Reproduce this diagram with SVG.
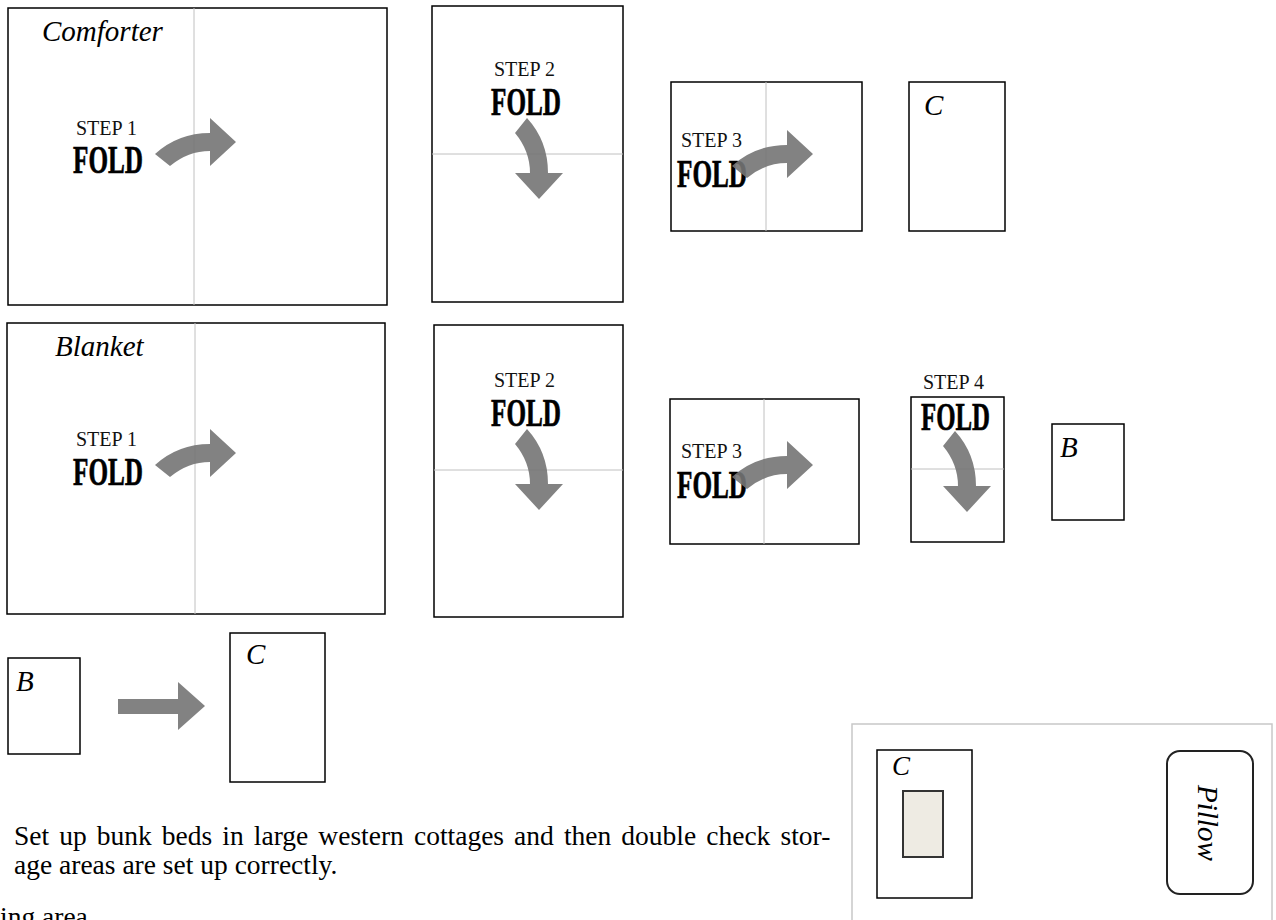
<svg xmlns="http://www.w3.org/2000/svg" xmlns:xlink="http://www.w3.org/1999/xlink" width="1276" height="920" viewBox="0 0 1276 920">
<style>
.box{fill:#fff;stroke:#000;stroke-width:1.5}
.fold{stroke:#c0c0c0;stroke-width:1;fill:none}
.lbl{font-family:"Liberation Serif","Times New Roman",serif;font-style:italic;font-size:29px;fill:#000}
.step{font-family:"Liberation Serif","Times New Roman",serif;font-size:20px;fill:#111}
.fd{font-family:"Liberation Serif","Times New Roman",serif;font-weight:bold;font-size:41px;fill:#000;stroke:#000;stroke-width:0.7}
.arr{fill:#747474;fill-opacity:0.9}
.body{font-family:"Liberation Serif","Times New Roman",serif;font-size:27.5px;fill:#000}
</style>
<defs>
<path id="curv" d="M-55,12 Q-32,-9 0,-9 L0,-24 L26,0 L0,24 L0,9 Q-22,9 -40,24 Z"/>
</defs>
<rect width="1276" height="920" fill="#fff"/>

<g id="comforter-step1">
<rect class="box" x="8" y="8" width="379" height="297"/>
<line class="fold" x1="194" y1="8" x2="194" y2="305"/>
<text class="lbl" x="42" y="41">Comforter</text>
<text class="step" x="76" y="135">STEP 1</text>
<text class="fd" x="73" y="173" textLength="70" lengthAdjust="spacingAndGlyphs">FOLD</text>
</g>
<g id="comforter-step2">
<rect class="box" x="432" y="6" width="191" height="296"/>
<line class="fold" x1="432" y1="154" x2="623" y2="154"/>
<text class="step" x="494" y="76">STEP 2</text>
<text class="fd" x="491" y="115" textLength="70" lengthAdjust="spacingAndGlyphs">FOLD</text>
</g>
<g id="comforter-step3">
<rect class="box" x="671" y="82" width="191" height="149"/>
<line class="fold" x1="766" y1="82" x2="766" y2="231"/>
<text class="step" x="681" y="147">STEP 3</text>
<text class="fd" x="677" y="187" textLength="70" lengthAdjust="spacingAndGlyphs">FOLD</text>
</g>
<g id="comforter-done">
<rect class="box" x="909" y="82" width="96" height="149"/>
<text class="lbl" x="924" y="115">C</text>
</g>

<g id="blanket-step1">
<rect class="box" x="7" y="323" width="378" height="291"/>
<line class="fold" x1="195" y1="323" x2="195" y2="614"/>
<text class="lbl" x="55" y="356">Blanket</text>
<text class="step" x="76" y="446">STEP 1</text>
<text class="fd" x="73" y="485" textLength="70" lengthAdjust="spacingAndGlyphs">FOLD</text>
</g>
<g id="blanket-step2">
<rect class="box" x="434" y="325" width="189" height="292"/>
<line class="fold" x1="434" y1="470" x2="623" y2="470"/>
<text class="step" x="494" y="387">STEP 2</text>
<text class="fd" x="491" y="426" textLength="70" lengthAdjust="spacingAndGlyphs">FOLD</text>
</g>
<g id="blanket-step3">
<rect class="box" x="670" y="399" width="189" height="145"/>
<line class="fold" x1="764" y1="399" x2="764" y2="544"/>
<text class="step" x="681" y="458">STEP 3</text>
<text class="fd" x="677" y="498" textLength="70" lengthAdjust="spacingAndGlyphs">FOLD</text>
</g>
<g id="blanket-step4">
<text class="step" x="923" y="389">STEP 4</text>
<rect class="box" x="911" y="397" width="93" height="145"/>
<line class="fold" x1="911" y1="469" x2="1004" y2="469"/>
<text class="fd" x="921" y="430" textLength="69" lengthAdjust="spacingAndGlyphs">FOLD</text>
</g>
<g id="blanket-done">
<rect class="box" x="1052" y="424" width="72" height="96"/>
<text class="lbl" x="1060" y="457">B</text>
</g>

<g id="stack-b">
<rect class="box" x="8" y="658" width="72" height="96"/>
<text class="lbl" x="16" y="691">B</text>
</g>
<g id="stack-c">
<rect class="box" x="230" y="633" width="95" height="149"/>
<text class="lbl" x="246" y="664">C</text>
</g>

<g id="connectors">
<use xlink:href="#curv" class="arr" transform="translate(210,142)"/>
<use xlink:href="#curv" class="arr" transform="translate(539,173) rotate(90)"/>
<use xlink:href="#curv" class="arr" transform="translate(787,154)"/>
<use xlink:href="#curv" class="arr" transform="translate(210,453)"/>
<use xlink:href="#curv" class="arr" transform="translate(539,484) rotate(90)"/>
<use xlink:href="#curv" class="arr" transform="translate(787,465)"/>
<use xlink:href="#curv" class="arr" transform="translate(967,486) rotate(90)"/>
<path class="arr" d="M118,699 L178,699 L178,682 L205,706 L178,730 L178,714 L118,714 Z"/>
</g>

<g id="instructions">
<text class="body" x="14" y="845" word-spacing="3.2">Set up bunk beds in large western cottages and then double check stor-</text>
<text class="body" x="14" y="874">age areas are set up correctly.</text>
<text class="body" x="0" y="926">ing area</text>
</g>

<g id="storage-area">
<rect x="852" y="724" width="420" height="210" fill="#fff" stroke="#c8c8c8" stroke-width="1.5"/>
<rect class="box" x="877" y="750" width="95" height="148"/>
<text class="lbl" x="892" y="775" style="font-size:27px">C</text>
<rect x="903" y="791" width="40" height="66" fill="#eeebe3" stroke="#333" stroke-width="2"/>
<rect x="1167" y="751" width="86" height="143" rx="13" ry="13" fill="#fff" stroke="#222" stroke-width="2"/>
<text class="lbl" transform="translate(1198,785) rotate(90)">Pillow</text>
</g>
</svg>
